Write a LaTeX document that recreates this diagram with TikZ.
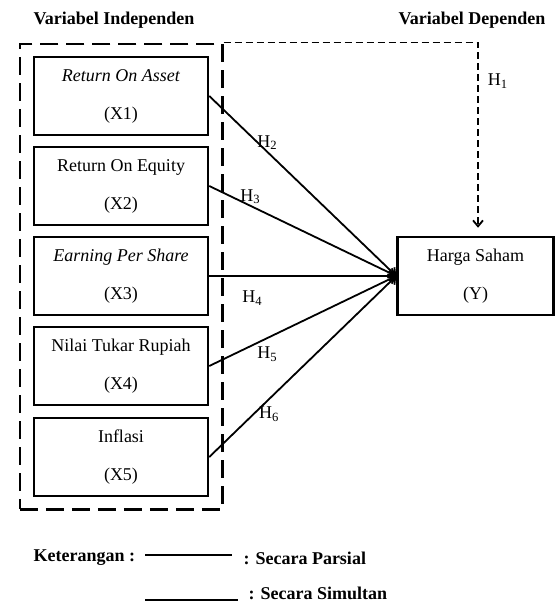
\documentclass[tikz,border=0pt]{standalone}
\usepackage{fontspec}
\setmainfont{Liberation Serif}
\usetikzlibrary{arrows.meta,fit,positioning}

\begin{document}
\begin{tikzpicture}[x=1pt, y=-1pt, >={Straight Barb[length=6pt,width=10pt]},
    every node/.style={font=\fontsize{18}{38}\selectfont},
    judul/.style={font=\fontsize{18}{22}\selectfont\bfseries},
    varbox/.style={draw, line width=2.5pt, minimum width=174pt, minimum height=78pt, align=center, inner sep=0pt},
    hlabel/.style={inner sep=1pt, font=\fontsize{18}{22}\selectfont},
    parsial/.style={->, line width=1.8pt},
    simultan/.style={->, line width=1.8pt, dash pattern=on 7pt off 4pt}]
        \useasboundingbox (0,0) rectangle (555,605);
        % Judul
        \node[judul, anchor=west] (jdlind) at (30,20) {Variabel Independen};
        \node[judul, anchor=west] (jdldep) at (395,20) {Variabel Dependen};

        % Variabel Independen
        \node[varbox] (x1) at (121,96) {\textit{Return On Asset}\\(X1)};
        \node[varbox] (x2) at (121,186) {Return On Equity\\(X2)};
        \node[varbox] (x3) at (121,276) {\textit{Earning Per Share}\\(X3)};
        \node[varbox] (x4) at (121,366) {Nilai Tukar Rupiah\\(X4)};
        \node[varbox] (x5) at (121,457) {Inflasi\\(X5)};
        \node[draw, line width=2.5pt, dash pattern=on 18pt off 8pt, inner xsep=13pt, inner ysep=12pt, fit=(x1)(x5)] (grp) {};

        % Variabel Dependen
        \node[varbox, minimum width=156pt] (y) at (475.5,276) {Harga Saham\\(Y)};

        % Secara Parsial
        \draw[parsial] (x1.east) -- (y.west) node[hlabel, pos=0.31, above] {H\textsubscript{2}};
        \draw[parsial] (x2.east) -- (y.west) node[hlabel, pos=0.22, above] {H\textsubscript{3}};
        \draw[parsial] (x3.east) -- (y.west) node[hlabel, pos=0.23, below=13pt] {H\textsubscript{4}};
        \draw[parsial] (x4.east) -- (y.west) node[hlabel, pos=0.31, below=7pt] {H\textsubscript{5}};
        \draw[parsial] (x5.east) -- (y.west) node[hlabel, pos=0.32, below=6pt] {H\textsubscript{6}};

        % Secara Simultan
        \draw[simultan, shorten >=8pt] (grp.north east) -| ([xshift=2.5pt]y.north) node[hlabel, pos=0.6, right=8pt] {H\textsubscript{1}};

        % Keterangan
        \node[judul, anchor=west] (ket) at (30,558) {Keterangan :};
        \coordinate (ketp1) at (145,555);
        \coordinate (ketp2) at (232,555);
        \draw[line width=2pt] (ketp1) -- (ketp2);
        \node[judul, anchor=west] (ketpar) at (240,558) {: Secara Parsial};
        \coordinate (kets1) at (145,600);
        \coordinate (kets2) at (238,600);
        \draw[line width=2.5pt] (kets1) -- (kets2);
        \node[judul, anchor=west] (ketsim) at (245,593) {: Secara Simultan};
    \end{tikzpicture}
\end{document}
